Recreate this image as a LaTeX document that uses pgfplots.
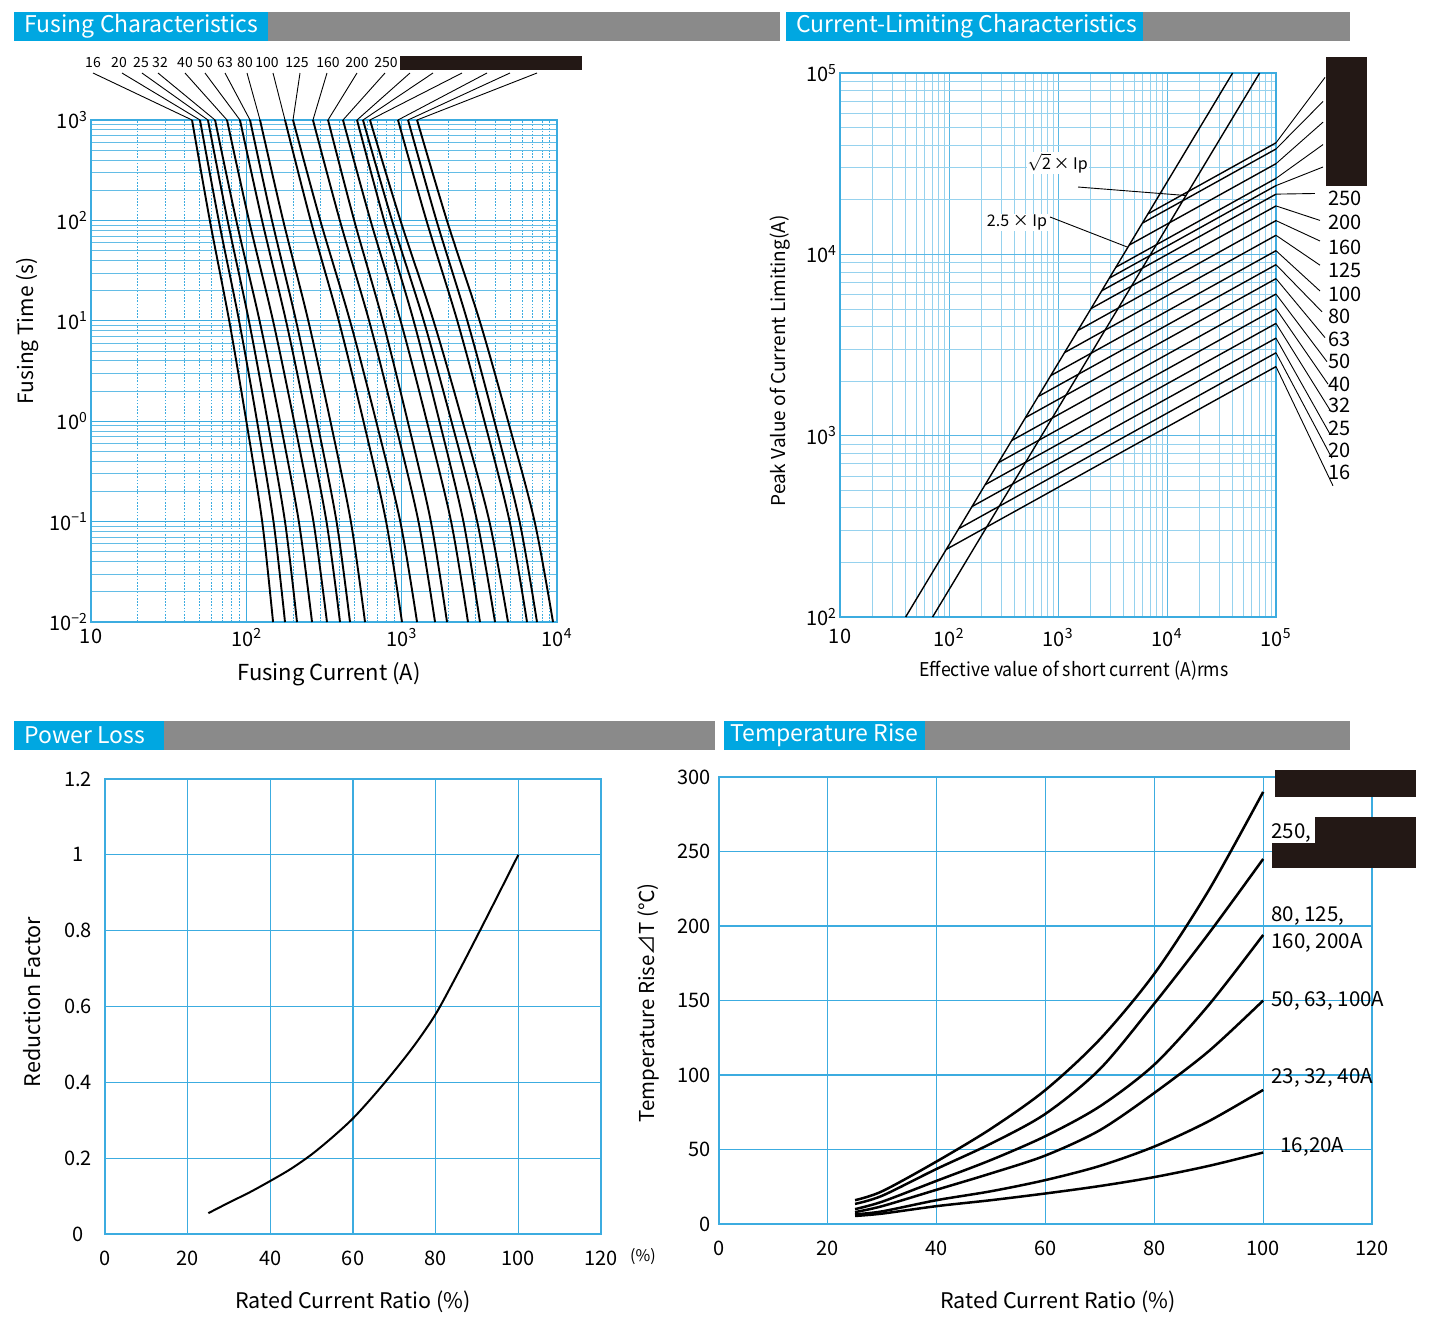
\documentclass[border=0pt]{standalone}
\usepackage{pgfplots}
\pgfplotsset{compat=1.18}
\usepackage{graphicx}
\usepackage{fontspec}
\setmainfont{Noto Sans CJK JP}
\definecolor{hdrblue}{RGB}{0,167,225}
\definecolor{hdrgray}{RGB}{138,138,138}
\definecolor{gridblue}{RGB}{60,172,224}
\definecolor{gridminor}{RGB}{150,210,238}
\definecolor{boxblack}{RGB}{35,24,21}
\newcommand{\fs}[1]{\fontsize{#1}{#1}\selectfont}
\pgfplotsset{
  base/.style={scale only axis, anchor=north west,
    axis line style={gridblue,line width=1.2pt},
    tick style={draw=none},
    major grid style={gridblue,line width=1.1pt},
    minor grid style={gridminor,line width=0.8pt},
    ticklabel style={font=\fs{20}},
  },
  fc/.style={black,line width=1.9pt,smooth},
  cl/.style={black,line width=1.4pt},
  tc/.style={black,line width=2.5pt,smooth},
}
\begin{document}
\begin{tikzpicture}[x=1pt,y=-1pt]
\path[use as bounding box] (0,0) rectangle (1434,1322);
% headers
\fill[hdrgray] (268,12) rectangle (780,41);
\fill[hdrblue] (14,12) rectangle (268,41);
\node[anchor=west,text=white,font=\fs{23}] at (21,26.5) {Fusing Characteristics};
\fill[hdrgray] (1143,12) rectangle (1350,41);
\fill[hdrblue] (786,12) rectangle (1143,41);
\node[anchor=west,text=white,font=\fs{23}] at (793,26.5) {Current-Limiting Characteristics};
\fill[hdrgray] (164,721) rectangle (715,750);
\fill[hdrblue] (14,721) rectangle (164,750);
\node[anchor=west,text=white,font=\fs{23}] at (21,735.5) {Power Loss};
\fill[hdrgray] (925,721) rectangle (1350,750);
\fill[hdrblue] (724,721) rectangle (925,750);
\node[anchor=west,text=white,font=\fs{23}] at (727,735.5) {Temperature Rise};

% ---------------- Fusing characteristics
\begin{axis}[base, at={(91pt,-120pt)}, width=466pt, height=502pt,
  xmode=log, ymode=log, xmin=10, xmax=10000, ymin=0.01, ymax=1000,
  grid=both,
  xtick={10,100,1000,10000},
  xticklabels={10,10\textsuperscript{2},10\textsuperscript{3},10\textsuperscript{4}},
  ytick={0.01,0.1,1,10,100,1000},
  yticklabels={10\textsuperscript{−2},10\textsuperscript{−1},10\textsuperscript{0},10\textsuperscript{1},10\textsuperscript{2},10\textsuperscript{3}},
  xticklabel style={yshift=-3pt},
  minor xtick={20,30,40,50,60,70,80,90,200,300,400,500,600,700,800,900,2000,3000,4000,5000,6000,7000,8000,9000},
  minor ytick={0.02,0.03,0.04,0.05,0.06,0.07,0.08,0.09,0.2,0.3,0.4,0.5,0.6,0.7,0.8,0.9,2,3,4,5,6,7,8,9,20,30,40,50,60,70,80,90,200,300,400,500,600,700,800,900},
  major grid style={gridblue,line width=1pt},
  minor x grid style={gridblue,line width=0.9pt,dash pattern=on 1.6pt off 1.6pt},
  minor y grid style={gridblue!80,line width=0.8pt},
  clip=false]
\addplot[fc] coordinates {(44.7,1000)(58.2,100)(77.6,10)(100,1)(126.5,0.1)(148.6,0.01)};
\addplot[fc] coordinates {(50.3,1000)(66.4,100)(89.8,10)(117.2,1)(149.6,0.1)(177.4,0.01)};
\addplot[fc] coordinates {(56.6,1000)(75.7,100)(103.9,10)(137.1,1)(177.4,0.1)(211.9,0.01)};
\addplot[fc] coordinates {(62.9,1000)(86.1,100)(121.7,10)(164.8,1)(217.8,0.1)(264.8,0.01)};
\addplot[fc] coordinates {(75.1,1000)(104.0,100)(148.6,10)(202.8,1)(270.4,0.1)(330.4,0.01)};
\addplot[fc] coordinates {(91.0,1000)(126.2,100)(180.0,10)(245.8,1)(328.1,0.1)(400.9,0.01)};
\addplot[fc] coordinates {(105.6,1000)(146.2,100)(208.9,10)(285.1,1)(380.8,0.1)(464.9,0.01)};
\addplot[fc] coordinates {(122.5,1000)(172.6,100)(250.6,10)(347.7,1)(470.9,0.1)(580.8,0.01)};
\addplot[fc] coordinates {(177.4,1000)(259.4,100)(393.7,10)(567.5,1)(794.3,0.1)(1004.6,0.01)};
\addplot[fc] coordinates {(199.8,1000)(299.2,100)(464.9,10)(684.7,1)(979.9,0.1)(1256,0.01)};
\addplot[fc] coordinates {(268.5,1000)(399.9,100)(617.2,10)(902.0,1)(1283,0.1)(1640,0.01)};
\addplot[fc] coordinates {(335.7,1000)(494.6,100)(755.1,10)(1093,1)(1542,0.1)(1959,0.01)};
\addplot[fc] coordinates {(419.1,1000)(630.0,100)(983.8,10)(1452,1)(2081,0.1)(2673,0.01)};
\addplot[fc] coordinates {(516.0,1000)(770.9,100)(1194,10)(1750,1)(2498,0.1)(3192,0.01)};
\addplot[fc] coordinates {(563.6,1000)(866.4,100)(1387,10)(2090,1)(3064,0.1)(3990,0.01)};
\addplot[fc] coordinates {(625.3,1000)(981.8,100)(1603,10)(2464,1)(3673,0.1)(4838,0.01)};
\addplot[fc] coordinates {(947.0,1000)(1443,100)(2281,10)(3410,1)(4955,0.1)(6412,0.01)};
\addplot[fc] coordinates {(1099,1000)(1674,100)(2646,10)(3954,1)(5745,0.1)(7435,0.01)};
\addplot[fc] coordinates {(1256,1000)(1955,100)(3177,10)(4842,1)(7178,0.1)(9425,0.01)};
% leaders
\begin{scope}[black,line width=0.9pt]
\draw (axis cs:44.7,1000) -- (rel axis cs:0.0043,1.0936);
\draw (axis cs:50.3,1000) -- (rel axis cs:0.0665,1.0936);
\draw (axis cs:56.6,1000) -- (rel axis cs:0.1094,1.0936);
\draw (axis cs:62.9,1000) -- (rel axis cs:0.1438,1.0936);
\draw (axis cs:75.1,1000) -- (rel axis cs:0.2017,1.0936);
\draw (axis cs:91.0,1000) -- (rel axis cs:0.2446,1.0936);
\draw (axis cs:105.6,1000) -- (rel axis cs:0.2876,1.0936);
\draw (axis cs:122.5,1000) -- (rel axis cs:0.3348,1.0936);
\draw (axis cs:177.4,1000) -- (rel axis cs:0.3906,1.0936);
\draw (axis cs:199.8,1000) -- (rel axis cs:0.4485,1.0936);
\draw (axis cs:268.5,1000) -- (rel axis cs:0.5064,1.0936);
\draw (axis cs:335.7,1000) -- (rel axis cs:0.5708,1.0936);
\draw (axis cs:419.1,1000) -- (rel axis cs:0.6309,1.0936);
\draw (axis cs:516.0,1000) -- (rel axis cs:0.6845,1.0936);
\draw (axis cs:563.6,1000) -- (rel axis cs:0.7339,1.0936);
\draw (axis cs:625.3,1000) -- (rel axis cs:0.7961,1.0936);
\draw (axis cs:947.0,1000) -- (rel axis cs:0.8498,1.0936);
\draw (axis cs:1099,1000) -- (rel axis cs:0.8991,1.0936);
\draw (axis cs:1256,1000) -- (rel axis cs:0.9571,1.0936);
\end{scope}
\end{axis}
% top labels
\begin{scope}[font=\fs{14}]
\node at (93,63) {16}; \node at (119,63) {20}; \node at (141,63) {25}; \node at (160,63) {32};
\node at (185,63) {40}; \node at (205,63) {50}; \node at (225,63) {63}; \node at (245,63) {80};
\node at (267,63) {100}; \node at (297,63) {125}; \node at (328,63) {160}; \node at (357,63) {200};
\node at (386,63) {250};
\end{scope}
\fill[boxblack] (400,56) rectangle (582,70);
\node[rotate=90,font=\fs{21}] at (28,331) {Fusing Time (s)};
\node[font=\fs{22}] at (329,674) {Fusing Current (A)};

% ---------------- Current limiting
\begin{axis}[base, at={(840pt,-73pt)}, width=436pt, height=544pt,
  xmode=log, ymode=log, xmin=10, xmax=100000, ymin=100, ymax=100000,
  grid=both,
  xtick={10,100,1000,10000,100000},
  xticklabels={10,10\textsuperscript{2},10\textsuperscript{3},10\textsuperscript{4},10\textsuperscript{5}},
  ytick={100,1000,10000,100000},
  yticklabels={10\textsuperscript{2},10\textsuperscript{3},10\textsuperscript{4},10\textsuperscript{5}},
  xticklabel style={yshift=-8pt},
  minor xtick={20,30,40,50,60,70,80,90,200,300,400,500,600,700,800,900,2000,3000,4000,5000,6000,7000,8000,9000,20000,30000,40000,50000,60000,70000,80000,90000},
  minor ytick={200,300,400,500,600,700,800,900,2000,3000,4000,5000,6000,7000,8000,9000,20000,30000,40000,50000,60000,70000,80000,90000},
  major grid style={gridblue!85,line width=0.9pt},
  minor grid style={gridminor,line width=0.7pt},
  clip=false]
\addplot[cl] coordinates {(40,100)(40000,100000)};
\addplot[cl] coordinates {(70.71,100)(70711,100000)};
\addplot[cl] coordinates {(6683,16711)(100000,41210)};
\addplot[cl] coordinates {(5943,14859)(100000,38107)};
\addplot[cl] coordinates {(4498,11246)(100000,31623)};
\addplot[cl] coordinates {(3396,8492)(100000,26242)};
\addplot[cl] coordinates {(2958,7396)(100000,23933)};
\addplot[cl] coordinates {(2518,6295)(100000,21478)};
\addplot[cl] coordinates {(2009,5023)(100000,18493)};
\addplot[cl] coordinates {(1521,3802)(100000,15346)};
\addplot[cl] coordinates {(1148,2871)(100000,12735)};
\addplot[cl] coordinates {(857,2143)(100000,10471)};
\addplot[cl] coordinates {(658,1644)(100000,8770)};
\addplot[cl] coordinates {(504,1259)(100000,7345)};
\addplot[cl] coordinates {(376,940)(100000,6039)};
\addplot[cl] coordinates {(284,710)(100000,5012)};
\addplot[cl] coordinates {(215,537)(100000,4159)};
\addplot[cl] coordinates {(162,406)(100000,3451)};
\addplot[cl] coordinates {(123,307)(100000,2864)};
\addplot[cl] coordinates {(94.4,236)(100000,2404)};
\begin{scope}[black,line width=0.9pt]
\draw (axis cs:100000,41210) -- (rel axis cs:1.1124,0.9919);
\draw (axis cs:100000,38107) -- (rel axis cs:1.1078,0.9476);
\draw (axis cs:100000,31623) -- (rel axis cs:1.1078,0.9096);
\draw (axis cs:100000,26242) -- (rel axis cs:1.1078,0.8684);
\draw (axis cs:100000,23933) -- (rel axis cs:1.1078,0.8272);
\draw (axis cs:100000,21478) -- (rel axis cs:1.0894,0.7785);
\draw (axis cs:100000,18493) -- (rel axis cs:1.1009,0.7290);
\draw (axis cs:100000,15346) -- (rel axis cs:1.1009,0.6912);
\draw (axis cs:100000,12735) -- (rel axis cs:1.1009,0.6467);
\draw (axis cs:100000,10471) -- (rel axis cs:1.1009,0.5993);
\draw (axis cs:100000,8770) -- (rel axis cs:1.1055,0.5610);
\draw (axis cs:100000,7345) -- (rel axis cs:1.1124,0.5136);
\draw (axis cs:100000,6039) -- (rel axis cs:1.1170,0.4693);
\draw (axis cs:100000,5012) -- (rel axis cs:1.1193,0.4281);
\draw (axis cs:100000,4159) -- (rel axis cs:1.1239,0.3805);
\draw (axis cs:100000,3451) -- (rel axis cs:1.1239,0.3362);
\draw (axis cs:100000,2864) -- (rel axis cs:1.1284,0.2919);
\draw (axis cs:100000,2404) -- (rel axis cs:1.1307,0.2412);
\draw (axis cs:14925,21104) -- (rel axis cs:0.5459,0.7904);
\draw (axis cs:4375,10938) -- (rel axis cs:0.4817,0.7353);
\end{scope}
\node[fill=white,inner sep=1pt,font=\fs{16}] at (rel axis cs:0.4994,0.8346) {$\sqrt{\mbox{2}}$\,× Ip};
\node[fill=white,inner sep=1pt,font=\fs{16}] at (rel axis cs:0.4059,0.7252) {2.5 × Ip};
\end{axis}
\fill[boxblack] (1326,57) rectangle (1367,186);
\begin{scope}[font=\fs{20}]
\node[anchor=west] at (1325,198) {250}; \node[anchor=west] at (1325,222) {200};
\node[anchor=west] at (1325,247) {160}; \node[anchor=west] at (1325,270) {125};
\node[anchor=west] at (1325,294) {100}; \node[anchor=west] at (1325,316) {80};
\node[anchor=west] at (1325,339) {63}; \node[anchor=west] at (1325,361) {50};
\node[anchor=west] at (1325,384) {40}; \node[anchor=west] at (1325,405) {32};
\node[anchor=west] at (1325,428) {25}; \node[anchor=west] at (1325,450) {20};
\node[anchor=west] at (1325,472) {16};
\end{scope}
\node[rotate=90,font=\fs{19}] at (780,361) {Peak Value of Current Limiting(A)};
\node[font=\fs{19}] at (1074,671) {\scalebox{0.93}[1]{Effective value of short current (A)rms}};

% ---------------- Power loss
\begin{axis}[base, at={(105pt,-779pt)}, width=496pt, height=455pt,
  xmin=0, xmax=120, ymin=0, ymax=1.2, grid=major,
  xtick={0,20,40,60,80,100,120}, xticklabels={0,20,40,60,80,100,120},
  ytick={0,0.2,0.4,0.6,0.8,1,1.2}, yticklabels={0,0.2,0.4,0.6,0.8,1,1.2},
  yticklabel style={anchor=center,xshift=-27pt},
  xticklabel style={yshift=-13pt},
  ]
\addplot[black,line width=2pt,smooth] coordinates {(25,0.055)(30,0.083)(35,0.11)(40,0.14)(45,0.172)(50,0.21)(55,0.255)(60,0.305)(65,0.365)(70,0.43)(75,0.5)(80,0.58)(85,0.68)(90,0.785)(95,0.892)(100,1.0)};
\end{axis}
\node[font=\fs{16}] at (643,1257) {(\%)};
\node[rotate=90,font=\fs{21.5}] at (32,1002) {Reduction Factor};
\node[font=\fs{21.5}] at (353,1302) {Rated Current Ratio (\%)};

% ---------------- Temperature rise
\begin{axis}[base, at={(719pt,-777pt)}, width=653pt, height=447pt,
  xmin=0, xmax=120, ymin=0, ymax=300, grid=major,
  xtick={0,20,40,60,80,100,120}, xticklabels={0,20,40,60,80,100,120},
  ytick={0,50,100,150,200,250,300}, yticklabels={0,50,100,150,200,250,300},
  yticklabel style={xshift=-5pt},
  xticklabel style={yshift=-13pt},
  clip=false]
\addplot[tc] coordinates {(25,16)(30,22)(40,42)(50,64)(60,90)(70,124)(80,168)(90,224)(100,290)};
\addplot[tc] coordinates {(25,13.5)(30,19)(40,37)(50,54)(60,74)(70,104)(80,148)(90,195)(100,245)};
\addplot[tc] coordinates {(25,10)(30,15)(40,29)(50,43)(60,59)(70,79)(80,107)(90,147)(100,194)};
\addplot[tc] coordinates {(25,8)(30,12)(40,23)(50,34)(60,46)(70,63)(80,88)(90,116)(100,150)};
\addplot[tc] coordinates {(25,6.5)(30,8.5)(40,16)(50,22)(60,29.5)(70,39)(80,52)(90,69)(100,90)};
\addplot[tc] coordinates {(25,5.4)(30,7)(40,12)(50,16)(60,20.5)(70,25.5)(80,31.5)(90,39)(100,48)};
\end{axis}
\fill[boxblack] (1275,770) rectangle (1416,797);
\fill[boxblack] (1315,817) rectangle (1416,843);
\fill[boxblack] (1272,843) rectangle (1416,868);
\begin{scope}[font=\fs{20.5}]
\node[anchor=west] at (1268,833) {250,};
\node[anchor=west] at (1268,916) {80, 125,};
\node[anchor=west] at (1268,943) {160, 200A};
\node[anchor=west] at (1268,1001) {50, 63, 100A};
\node[anchor=west] at (1268,1078) {23, 32, 40A};
\node[anchor=west] at (1277,1147) {16,20A};
\end{scope}
\node[rotate=90,font=\fs{20.5}] at (648,1003) {Temperature Rise⊿T (℃)};
\node[font=\fs{21.5}] at (1058,1302) {Rated Current Ratio (\%)};
\end{tikzpicture}
\end{document}
